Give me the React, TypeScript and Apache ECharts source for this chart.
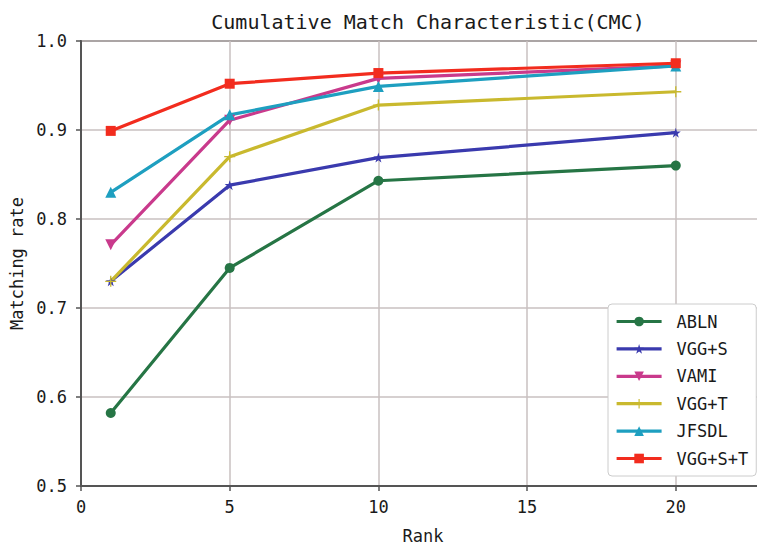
import React, { useEffect, useRef } from "react";
import * as echarts from "echarts";

const ranks = [1, 5, 10, 20];
const seriesNames = ["ABLN", "VGG+S", "VAMI", "VGG+T", "JFSDL", "VGG+S+T"];
const ablnValues = [0.582, 0.745, 0.843, 0.86];
const vggSValues = [0.73, 0.838, 0.869, 0.897];
const vamiValues = [0.771, 0.911, 0.958, 0.972];
const vggTValues = [0.73, 0.87, 0.928, 0.943];
const jfsdlValues = [0.83, 0.917, 0.949, 0.972];
const vggSTValues = [0.899, 0.952, 0.964, 0.975];
const yTicks = [0.5, 0.6, 0.7, 0.8, 0.9, 1.0];
const xTicks = [0, 5, 10, 15, 20];

const STAR =
  "path://M50,0 L61,35 L98,35 L68,57 L79,91 L50,70 L21,91 L32,57 L2,35 L39,35 Z";
const PLUS =
  "path://M44,0 L56,0 L56,44 L100,44 L100,56 L56,56 L56,100 L44,100 L44,56 L0,56 L0,44 L44,44 Z";

const FONT = "DejaVu Sans Mono";

export default function App() {
  const ref = useRef<HTMLDivElement>(null);
  useEffect(() => {
    if (!ref.current) return;
    const chart = echarts.init(ref.current, null, { renderer: "svg" });
    const values = [ablnValues, vggSValues, vamiValues, vggTValues, jfsdlValues, vggSTValues];
    const colors = ["#267545", "#3a3aae", "#c93a8c", "#c9b92e", "#1e9fc0", "#f22c1e"];
    const symbols = ["circle", STAR, "triangle", PLUS, "triangle", "rect"];
    const rot = [0, 0, 180, 0, 0, 0];
    const sizes = [10, 10, 11, 11, 11, 10];
    const series = seriesNames.map((name, i) => ({
      name,
      type: "line",
      data: ranks.map((r, j) => [r, values[i][j]]),
      symbol: symbols[i],
      symbolRotate: rot[i],
      symbolSize: sizes[i],
      showAllSymbol: true,
      lineStyle: { color: colors[i], width: 3.2 },
      itemStyle: { color: colors[i] },
      emphasis: { disabled: true },
    }));
    chart.setOption({
      animation: false,
      backgroundColor: "#ffffff",
      title: {
        text: "Cumulative Match Characteristic(CMC)",
        left: 423,
        textAlign: "center",
        top: 7,
        textStyle: { fontFamily: FONT, fontSize: 20, fontWeight: "normal", color: "#1a1a1a" },
      },
      grid: {
        left: 81,
        top: 41,
        right: -8,
        bottom: 58,
        outerBoundsMode: "none",
        containLabel: false,
        show: true,
        borderColor: "#555",
        borderWidth: 2,
        backgroundColor: "transparent",
      },
      legend: {
        orient: "vertical",
        left: 608,
        top: 304,
        padding: [9, 8, 9, 7],
        itemWidth: 45,
        itemHeight: 12,
        itemGap: 10.4,
        backgroundColor: "#ffffff",
        borderColor: "#cccccc",
        borderWidth: 1,
        borderRadius: 4,
        data: seriesNames,
        lineStyle: { width: 3.2 },
        textStyle: {
          fontFamily: FONT,
          fontSize: 17,
          lineHeight: 17,
          color: "#1a1a1a",
          padding: [0, 0, 0, 10],
        },
      },
      xAxis: {
        type: "value",
        min: 0,
        max: 23,
        interval: 5,
        name: "Rank",
        nameLocation: "middle",
        nameGap: 41,
        nameTextStyle: { fontFamily: FONT, fontSize: 17, color: "#1a1a1a" },
        axisLine: { show: true, lineStyle: { color: "#555", width: 2 } },
        axisTick: { show: true, length: 5, lineStyle: { color: "#555", width: 1.5 } },
        axisLabel: {
          margin: 12,
          fontFamily: FONT,
          fontSize: 17,
          color: "#1a1a1a",
          showMaxLabel: false,
          formatter: (v: number) => (xTicks.includes(v) ? String(v) : ""),
        },
        splitLine: { show: true, lineStyle: { color: "#c9c0c0", width: 1.5 } },
      },
      yAxis: {
        type: "value",
        min: 0.5,
        max: 1.0,
        interval: 0.1,
        name: "Matching rate",
        nameLocation: "middle",
        nameGap: 52,
        nameTextStyle: { fontFamily: FONT, fontSize: 17, color: "#1a1a1a" },
        axisLine: { show: true, lineStyle: { color: "#555", width: 2 } },
        axisTick: { show: true, length: 5, lineStyle: { color: "#555", width: 1.5 } },
        axisLabel: {
          margin: 14,
          fontFamily: FONT,
          fontSize: 17,
          color: "#1a1a1a",
          formatter: (v: number) => {
            const t = yTicks.find((y) => Math.abs(y - v) < 1e-6);
            return t === undefined ? "" : t.toFixed(1);
          },
        },
        splitLine: { show: true, lineStyle: { color: "#c9c0c0", width: 1.5 } },
      },
      series,
    });
    return () => chart.dispose();
  }, []);
  return (
    <div
      ref={ref}
      style={{ position: "absolute", left: 0, top: 0, width: 757, height: 544 }}
    />
  );
}
